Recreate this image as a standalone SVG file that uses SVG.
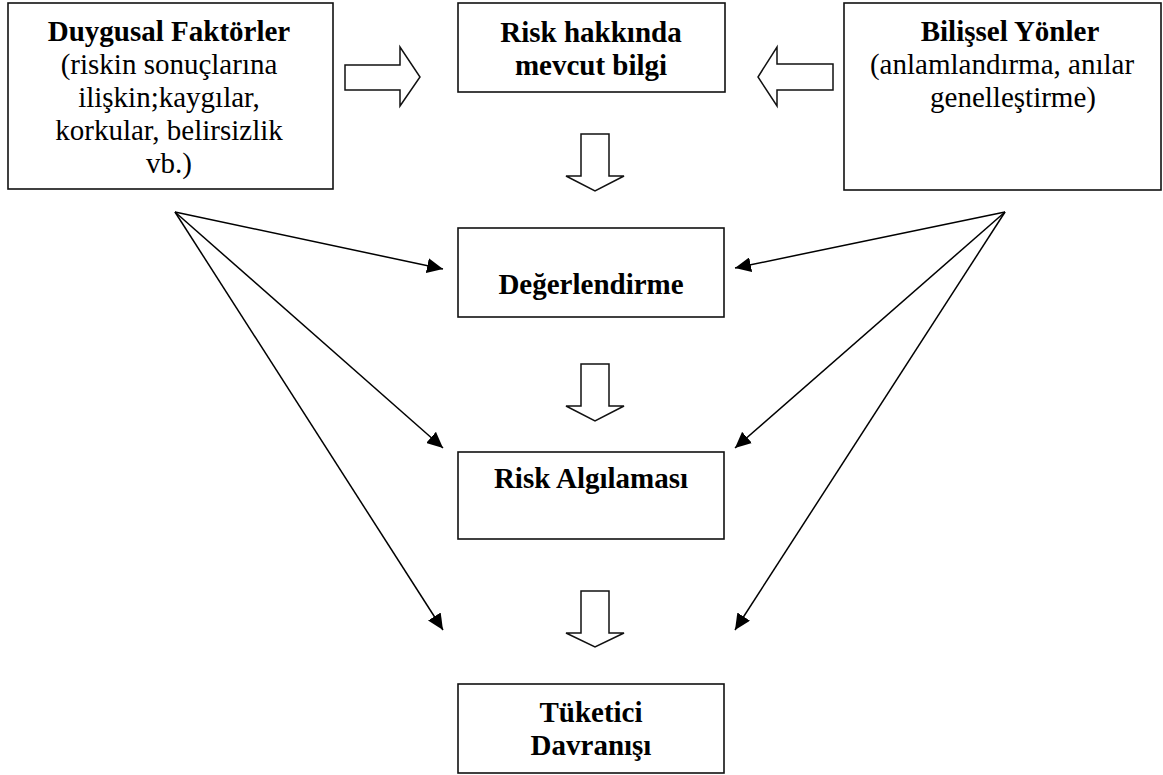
<svg xmlns="http://www.w3.org/2000/svg" width="1163" height="775" viewBox="0 0 1163 775">
<style>
.box{fill:#fff;stroke:#111;stroke-width:1.6}
.blk{fill:#fff;stroke:#111;stroke-width:1.5;stroke-linejoin:miter}
.t{font-family:'Liberation Serif','Times New Roman',serif;font-size:29px;fill:#000;text-anchor:middle}
.b{font-weight:bold}
.ln{stroke:#000;stroke-width:1.5;fill:none;marker-end:url(#ah)}
</style>
<defs>
<marker id="ah" markerUnits="userSpaceOnUse" markerWidth="17" markerHeight="15" refX="16" refY="7.5" orient="auto">
<path d="M0,0 L16,7.5 L0,15 z" fill="#000"/>
</marker>
</defs>
<rect width="1163" height="775" fill="#fff"/>
<g id="duygusal">
<rect class="box" x="8" y="3" width="325" height="186"/>
<text class="t b" x="169" y="41">Duygusal Faktörler</text>
<text class="t" x="169" y="74">(riskin sonuçlarına</text>
<text class="t" x="169" y="107">ilişkin;kaygılar,</text>
<text class="t" x="169" y="140">korkular, belirsizlik</text>
<text class="t" x="169" y="173">vb.)</text>
</g>
<g id="bilgi">
<rect class="box" x="458" y="3" width="267" height="89"/>
<text class="t b" x="591" y="42">Risk hakkında</text>
<text class="t b" x="591" y="75">mevcut bilgi</text>
</g>
<g id="bilissel">
<rect class="box" x="844" y="3" width="317" height="187"/>
<text class="t b" x="1010" y="41">Bilişsel Yönler</text>
<text class="t" x="1002" y="74">(anlamlandırma, anılar</text>
<text class="t" x="1013" y="107">genelleştirme)</text>
</g>
<g id="degerlendirme">
<rect class="box" x="458" y="228" width="266" height="89"/>
<text class="t b" x="591" y="294">Değerlendirme</text>
</g>
<g id="algilama">
<rect class="box" x="458" y="452" width="266" height="87"/>
<text class="t b" x="591" y="488">Risk Algılaması</text>
</g>
<g id="tuketici">
<rect class="box" x="458" y="684" width="266" height="89"/>
<text class="t b" x="591" y="722">Tüketici</text>
<text class="t b" x="591" y="755">Davranışı</text>
</g>
<g id="connectors">
<path class="blk" d="M345,65 H400 V47 L420,77 L400,106 V90 H345 Z"/>
<path class="blk" d="M833,64 H777 V47 L758,77 L777,106 V90 H833 Z"/>
<path class="blk" d="M581,134 H609 V176 H624 L595,191 L566,176 H581 Z"/>
<path class="blk" d="M581,364 H609 V406 H624 L595,421 L566,406 H581 Z"/>
<path class="blk" d="M581,591 H609 V633 H624 L595,647 L566,633 H581 Z"/>
<line class="ln" x1="175" y1="212" x2="443" y2="269"/>
<line class="ln" x1="175" y1="212" x2="443" y2="448"/>
<line class="ln" x1="175" y1="212" x2="443" y2="630"/>
<line class="ln" x1="1005" y1="212" x2="735" y2="268"/>
<line class="ln" x1="1005" y1="212" x2="735" y2="448"/>
<line class="ln" x1="1005" y1="212" x2="735" y2="630"/>
</g>
</svg>
